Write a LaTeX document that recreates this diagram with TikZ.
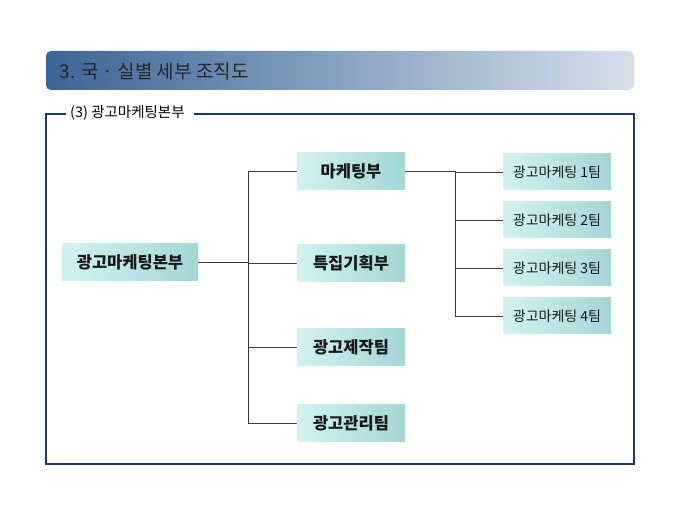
\documentclass[tikz,border=0pt]{standalone}
\usepackage{fontspec}
\usepackage{xcolor}
\usepackage{tikz}
\usetikzlibrary{positioning}
\newfontfamily\kr{Noto Sans CJK KR}
\definecolor{barDark}{HTML}{3A6496}
\definecolor{barLight}{HTML}{D6E0EA}
\definecolor{boxLight}{HTML}{D2F2F2}
\definecolor{boxDark}{HTML}{A4D6D6}
\definecolor{frameBlue}{HTML}{1E3A6C}
\definecolor{lineGray}{HTML}{3A3A3A}

\begin{document}
\begin{tikzpicture}[x=1pt,y=-1pt,
    box/.style={inner sep=0pt, minimum width=108pt, minimum height=37pt,
      left color=boxLight, right color=boxDark, text=black!90,
      font=\kr\bfseries\fontsize{16.5}{17}\selectfont},
    team/.style={box, minimum height=36pt, font=\kr\fontsize{14}{14}\selectfont},
    link/.style={draw=lineGray, line width=0.8pt}]
  \useasboundingbox (0,0) rectangle (680,510);
  \fill[white] (0,0) rectangle (680,510);
  % title bar
  \shade[left color=barDark, right color=barLight, rounded corners=5pt]
    (46,51) rectangle (634,90);
  \node[anchor=west, font=\kr\fontsize{19}{19}\selectfont, text=black!85] (title)
    at (56,71) {3. 국 · 실별 세부 조직도};
  % frame
  \draw[frameBlue, line width=1.8pt] (66,114) -- (46,114) -- (46,464) -- (634,464)
    -- (634,114) -- (194,114);
  \node[anchor=west, inner sep=1pt, font=\kr\fontsize{14.5}{15}\selectfont] (part)
    at (69,113) {(3) 광고마케팅본부};
  % boxes
  \node[box, minimum width=136pt] (hq) at (130,262) {광고마케팅본부};
  \node[box] (mkt) at (351,171) {마케팅부};
  \node[box] (plan) at (351,263) {특집기획부};
  \node[box] (prod) at (351,347) {광고제작팀};
  \node[box] (mgmt) at (351,423) {광고관리팀};
  \foreach \n/\y in {1/172,2/220,3/268,4/316}
    \node[team] (t\n) at (557,\y) {광고마케팅 \n{}팀};
  % connectors
  \coordinate (trunk) at (248,262);
  \coordinate (fork) at (455,171);
  \draw[link] (hq.east) -- (trunk);
  \draw[link] (mkt.west -| trunk) -- (mgmt.west -| trunk);
  \foreach \n in {mkt,plan,prod,mgmt}
    \draw[link] (\n.west -| trunk) -- (\n.west);
  \draw[link] (mkt.east) -- (fork);
  \draw[link] (fork) -- (t4.west -| fork);
  \foreach \n in {1,...,4}
    \draw[link] (t\n.west -| fork) -- (t\n.west);
\end{tikzpicture}
\end{document}
